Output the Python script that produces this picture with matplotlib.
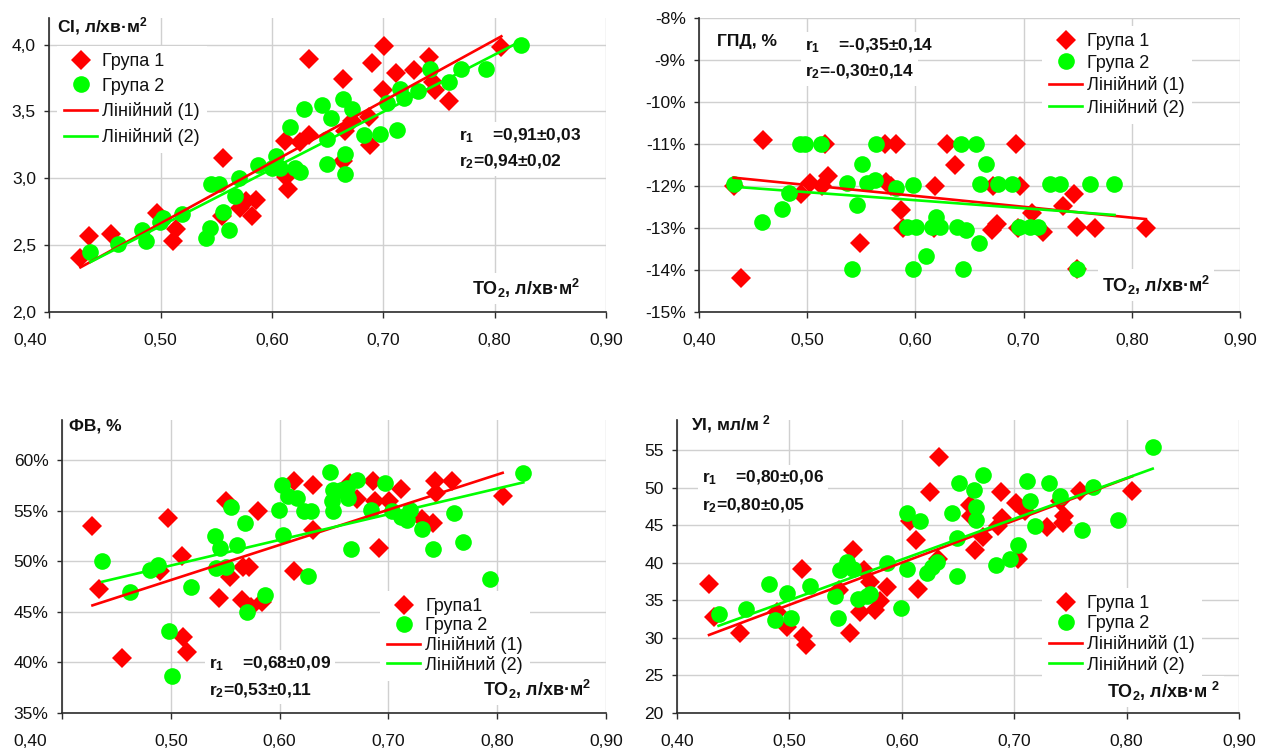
import numpy as np
import matplotlib
matplotlib.use("Agg")
import matplotlib.pyplot as plt
from matplotlib.ticker import FixedLocator, FuncFormatter

# ---------------- data ----------------
# Cardiac index (СІ, л/хв·м²) vs oxygen transport
ci_g1_x = [0.428, 0.436, 0.455, 0.497, 0.511, 0.514, 0.556, 0.555, 0.571, 0.577, 0.582, 0.586,
           0.612, 0.614, 0.613, 0.625, 0.633, 0.633, 0.664, 0.666, 0.672, 0.664, 0.687, 0.688,
           0.690, 0.700, 0.701, 0.711, 0.728, 0.741, 0.745, 0.746, 0.759, 0.806]
ci_g1_y = [2.40, 2.57, 2.58, 2.74, 2.53, 2.62, 3.15, 2.72, 2.78, 2.83, 2.72, 2.84,
           3.28, 2.92, 3.01, 3.27, 3.32, 3.89, 3.74, 3.35, 3.43, 3.13, 3.46, 3.25,
           3.86, 3.66, 3.99, 3.79, 3.81, 3.91, 3.72, 3.66, 3.58, 3.98]
ci_g2_x = [0.437, 0.462, 0.483, 0.487, 0.499, 0.502, 0.519, 0.541, 0.544, 0.545, 0.552, 0.556,
           0.561, 0.567, 0.570, 0.587, 0.600, 0.604, 0.607, 0.616, 0.621, 0.625, 0.629, 0.645,
           0.649, 0.649, 0.653, 0.664, 0.666, 0.666, 0.672, 0.683, 0.697, 0.703, 0.712, 0.715,
           0.719, 0.731, 0.742, 0.759, 0.770, 0.792, 0.824]
ci_g2_y = [2.45, 2.51, 2.61, 2.53, 2.67, 2.70, 2.73, 2.55, 2.63, 2.96, 2.96, 2.75,
           2.61, 2.87, 3.00, 3.10, 3.08, 3.17, 3.08, 3.38, 3.08, 3.05, 3.52, 3.55,
           3.29, 3.11, 3.45, 3.59, 3.18, 3.03, 3.52, 3.32, 3.33, 3.56, 3.36, 3.67,
           3.60, 3.65, 3.82, 3.72, 3.82, 3.82, 4.00]

# Oxygen extraction gradient (ГПД, %)
gpd_g1_x = [0.432, 0.439, 0.459, 0.494, 0.503, 0.514, 0.516, 0.519, 0.549, 0.572, 0.582, 0.573,
            0.577, 0.587, 0.589, 0.617, 0.618, 0.629, 0.637, 0.671, 0.675, 0.672, 0.693, 0.697,
            0.708, 0.718, 0.736, 0.747, 0.749, 0.749, 0.766, 0.813, 0.695]
gpd_g1_y = [-12.0, -14.2, -10.9, -12.2, -11.94, -12.0, -11.0, -11.76, -13.37, -11.0, -11.0, -11.9,
            -12.0, -12.58, -13.0, -13.0, -12.0, -11.0, -11.5, -13.05, -12.9, -12.0, -11.0, -12.0,
            -12.64, -13.09, -12.48, -12.18, -12.99, -13.97, -13.0, -13.0, -13.0]
gpd_g2_x = [0.432, 0.458, 0.477, 0.483, 0.493, 0.498, 0.513, 0.537, 0.541, 0.546, 0.551, 0.555,
            0.563, 0.564, 0.582, 0.592, 0.598, 0.598, 0.601, 0.610, 0.615, 0.619, 0.623, 0.638,
            0.642, 0.644, 0.647, 0.656, 0.659, 0.665, 0.660, 0.676, 0.689, 0.696, 0.706, 0.713,
            0.724, 0.734, 0.749, 0.761, 0.784]
gpd_g2_y = [-11.96, -12.87, -12.56, -12.16, -11.0, -11.0, -11.0, -11.94, -13.97, -12.46, -11.48, -11.94,
            -11.86, -11.0, -12.06, -12.97, -11.98, -13.97, -12.97, -13.67, -12.97, -12.74, -12.97, -12.97,
            -11.0, -13.97, -13.06, -11.0, -13.37, -11.48, -11.95, -11.95, -11.95, -12.97, -12.97, -12.97,
            -11.95, -11.95, -13.97, -11.95, -11.95]

# Ejection fraction (ФВ, %)
fv_g1_x = [0.428, 0.434, 0.455, 0.497, 0.490, 0.510, 0.511, 0.515, 0.544, 0.551, 0.554, 0.565,
           0.566, 0.572, 0.574, 0.580, 0.584, 0.613, 0.613, 0.631, 0.631, 0.665, 0.671, 0.686,
           0.688, 0.691, 0.701, 0.712, 0.731, 0.741, 0.743, 0.744, 0.758, 0.805]
fv_g1_y = [53.45, 47.24, 40.40, 54.29, 48.99, 50.55, 42.48, 41.05, 46.35, 55.93, 48.49, 46.18,
           49.39, 49.39, 45.52, 55.01, 46.01, 48.99, 57.92, 57.59, 53.13, 57.76, 56.17, 57.92,
           55.93, 51.31, 55.93, 57.16, 54.19, 53.79, 57.92, 56.77, 57.92, 56.43]
fv_g2_x = [0.437, 0.4625, 0.481, 0.4885, 0.498, 0.501, 0.519, 0.541, 0.542, 0.545, 0.551, 0.555,
           0.561, 0.568, 0.570, 0.587, 0.599, 0.602, 0.603, 0.608, 0.616, 0.622, 0.629, 0.626,
           0.646, 0.649, 0.648, 0.649, 0.656, 0.662, 0.663, 0.671, 0.666, 0.684, 0.697, 0.703,
           0.712, 0.717, 0.720, 0.731, 0.741, 0.760, 0.769, 0.793, 0.824]
fv_g2_y = [50.05, 47.0, 49.16, 49.65, 43.13, 38.64, 47.44, 52.46, 49.33, 51.31, 49.48, 55.38,
           51.64, 53.79, 45.02, 46.68, 55.11, 57.59, 52.63, 56.50, 56.27, 54.94, 54.94, 48.56,
           58.81, 57.09, 55.93, 54.94, 57.02, 57.26, 56.27, 58.09, 51.21, 55.04, 57.76, 54.94,
           54.38, 54.12, 55.11, 53.19, 51.21, 54.78, 51.96, 48.23, 58.75]

# Stroke index (УІ, мл/м²)
ui_g1_x = [0.4285, 0.433, 0.456, 0.489, 0.498, 0.5115, 0.512, 0.515, 0.544, 0.554, 0.557, 0.566,
           0.563, 0.572, 0.576, 0.581, 0.587, 0.607, 0.6125, 0.6147, 0.625, 0.633, 0.632, 0.661,
           0.662, 0.665, 0.672, 0.686, 0.689, 0.688, 0.702, 0.7035, 0.710, 0.729, 0.741, 0.744,
           0.743, 0.7585, 0.805]
ui_g1_y = [37.2, 32.76, 30.63, 33.42, 31.43, 39.09, 30.19, 28.99, 36.30, 30.63, 41.62, 38.96,
           33.42, 37.41, 33.65, 34.88, 36.74, 45.6, 42.95, 36.53, 49.37, 54.11, 40.52, 47.73,
           46.27, 41.62, 43.39, 44.94, 45.96, 49.37, 47.9, 40.52, 46.93, 44.72, 48.26, 46.27,
           45.25, 49.59, 49.59]
ui_g2_x = [0.437, 0.461, 0.482, 0.487, 0.498, 0.501, 0.518, 0.541, 0.543, 0.545, 0.551, 0.557,
           0.561, 0.569, 0.572, 0.5866, 0.599, 0.6045, 0.6045, 0.616, 0.622, 0.627, 0.631, 0.6445,
           0.649, 0.649, 0.651, 0.664, 0.666, 0.666, 0.6725, 0.6838, 0.6963, 0.7036, 0.711, 0.7145,
           0.7183, 0.7312, 0.7406, 0.760, 0.770, 0.792, 0.8232]
ui_g2_y = [33.11, 33.87, 37.19, 32.41, 35.95, 32.68, 36.84, 35.51, 32.68, 39.06, 40.07, 39.19,
           35.20, 35.6, 35.86, 39.93, 34.0, 39.19, 46.58, 45.51, 38.6, 39.4, 40.07, 46.58,
           43.31, 38.16, 50.56, 49.68, 47.47, 45.61, 51.72, 39.63, 40.52, 42.28, 50.83, 48.26,
           44.94, 50.56, 48.93, 44.37, 50.12, 45.61, 55.43]

x_ticks = [0.40, 0.50, 0.60, 0.70, 0.80, 0.90]

# ---------------- style ----------------
plt.rcParams['font.family'] = ['Liberation Sans', 'DejaVu Sans']
plt.rcParams['mathtext.fontset'] = 'custom'
plt.rcParams['mathtext.default'] = 'regular'

W, H = 1274, 751
RED = '#ff0000'
GREEN = '#00ff00'
AXC = '#2b2b2b'
GRIDC = '#d0d0d0'

fig = plt.figure(figsize=(W / 100, H / 100), dpi=100)


def px_rect(l, t, r, b):
    return [l / W, 1 - b / H, (r - l) / W, (b - t) / H]


def fx(x):
    return x / W


def fy(y):
    return 1 - y / H


def comma(fmt):
    return FuncFormatter(lambda v, p: (fmt % v).replace('.', ','))


def put(x, y, s, size=12, weight='bold', box=False, ha='left', va='baseline'):
    kw = {}
    if box:
        kw['bbox'] = dict(facecolor='white', edgecolor='none', pad=3)
    fig.text(fx(x), fy(y), s, fontsize=size, fontweight=weight, ha=ha, va=va,
             color='#111111', **kw)


def panel(rect_px, xs1, ys1, xs2, ys2, ylim, yticks, yfmt, labels, leg_px, leg_spacing,
          hide_first_x=False, tick_size=12.5):
    ax = fig.add_axes(px_rect(*rect_px))
    ax.set_xlim(0.40, 0.90)
    ax.set_ylim(*ylim)
    ax.xaxis.set_major_locator(FixedLocator(x_ticks))
    ax.yaxis.set_major_locator(FixedLocator(yticks))
    if hide_first_x:
        ax.xaxis.set_major_formatter(FuncFormatter(
            lambda v, p: '' if abs(v - 0.40) < 1e-9 else ('%.2f' % v).replace('.', ',')))
    else:
        ax.xaxis.set_major_formatter(comma('%.2f'))
    ax.yaxis.set_major_formatter(yfmt)
    for s in ('top', 'right'):
        ax.spines[s].set_visible(False)
    for s in ('left', 'bottom'):
        ax.spines[s].set_color(AXC)
        ax.spines[s].set_linewidth(1.2)
    ax.tick_params(axis='x', direction='out', length=4.3, width=1.0, color=AXC,
                   pad=11.0, labelsize=tick_size, labelcolor='#111111')
    ax.tick_params(axis='y', direction='out', length=3.6, width=1.0, color=AXC,
                   pad=6.0, labelsize=tick_size, labelcolor='#111111')
    ax.grid(True, color=GRIDC, linewidth=1.0)
    ax.set_axisbelow(True)

    xs1, ys1 = np.asarray(xs1), np.asarray(ys1)
    xs2, ys2 = np.asarray(xs2), np.asarray(ys2)
    ax.plot(xs1, ys1, 'D', color=RED, markersize=10.5, markeredgewidth=0,
            label=labels[0], zorder=3)
    ax.plot(xs2, ys2, 'o', color=GREEN, markersize=12, markeredgewidth=0,
            label=labels[1], zorder=4)
    k1, b1 = np.polyfit(xs1, ys1, 1)
    k2, b2 = np.polyfit(xs2, ys2, 1)
    t1 = np.array([xs1.min(), xs1.max()])
    t2 = np.array([xs2.min(), xs2.max()])
    ax.plot(t1, k1 * t1 + b1, color=RED, linewidth=1.9, label=labels[2], zorder=5)
    ax.plot(t2, k2 * t2 + b2, color=GREEN, linewidth=1.9, label=labels[3], zorder=6)

    fs = 13
    bp = 0.4
    lx, ly = leg_px
    leg = ax.legend(loc='center left', bbox_to_anchor=(fx(lx - bp * fs * 100 / 72), fy(ly)),
                    bbox_transform=fig.transFigure, fontsize=fs, frameon=True,
                    framealpha=1, facecolor='white', edgecolor='none', fancybox=False,
                    borderpad=bp, borderaxespad=0, handlelength=1.83, handletextpad=0.3,
                    labelspacing=leg_spacing, numpoints=1)
    leg.set_zorder(10)
    for t in leg.get_texts():
        t.set_color('#111111')

    if hide_first_x:
        put(30, rect_px[3] + 21, '0,40', size=tick_size, weight='normal', va='top', ha='center')
    return ax


pct = FuncFormatter(lambda v, p: '%d%%' % int(round(v)))
intf = FuncFormatter(lambda v, p: '%d' % int(round(v)))

# top-left: СІ
panel((49.3, 18, 606, 311.7), ci_g1_x, ci_g1_y, ci_g2_x, ci_g2_y,
      (2.0, 4.2), [2.0, 2.5, 3.0, 3.5, 4.0], comma('%.1f'),
      ['Група 1', 'Група 2', 'Лінійний (1)', 'Лінійний (2)'],
      (64, 99.5), 0.42, hide_first_x=True)
put(57, 32, 'СІ, л/хв·м$^2$', size=12.5)
put(459, 140, 'r$_1$    =0,91±0,03', size=12.5, box=True)
put(459, 166.7, 'r$_2$=0,94±0,02', size=12.5, box=True)
put(472, 295, 'ТО$_2$, л/хв·м$^2$', size=13, box=True)

# top-right: ГПД
panel((699, 18.3, 1240, 311.7), gpd_g1_x, gpd_g1_y, gpd_g2_x, gpd_g2_y,
      (-15, -8), list(range(-15, -7)), pct,
      ['Група 1', 'Група 2', 'Лінійний (1)', 'Лінійний (2)'],
      (1049, 75), 0.25)
put(717, 45.7, 'ГПД, %', size=12.5)
put(805, 50, 'r$_1$    =-0,35±0,14', size=12.5, box=True)
put(805, 76.7, 'r$_2$=-0,30±0,14', size=12.5, box=True)
put(1102, 291.7, 'ТО$_2$, л/хв·м$^2$', size=13, box=True)

# bottom-left: ФВ
panel((62, 420, 606, 712.7), fv_g1_x, fv_g1_y, fv_g2_x, fv_g2_y,
      (35, 64), [35, 40, 45, 50, 55, 60], pct,
      ['Група1', 'Група 2', 'Лінійний (1)', 'Лінійний (2)'],
      (387, 636), 0.1, hide_first_x=True)
put(69, 430.7, 'ФВ, %', size=12.5)
put(209, 668.3, 'r$_1$    =0,68±0,09', size=12.5, box=True)
put(209, 695, 'r$_2$=0,53±0,11', size=12.5, box=True)
put(483, 696, 'ТО$_2$, л/хв·м$^2$', size=13, box=True)

# bottom-right: УІ
panel((677, 420, 1239, 712.7), ui_g1_x, ui_g1_y, ui_g2_x, ui_g2_y,
      (20, 59), [20, 25, 30, 35, 40, 45, 50, 55], intf,
      ['Група 1', 'Група 2', 'Лінійнийй (1)', 'Лінійний (2)'],
      (1049, 634.5), 0.15)
put(691, 430, 'УІ, мл/м $^2$', size=12.5)
put(702, 482.7, 'r$_1$    =0,80±0,06', size=12.5, box=True)
put(702, 510, 'r$_2$=0,80±0,05', size=12.5, box=True)
put(1107, 698, 'ТО$_2$, л/хв·м $^2$', size=13, box=True)

fig.savefig('out.png', dpi=100, facecolor='white')
